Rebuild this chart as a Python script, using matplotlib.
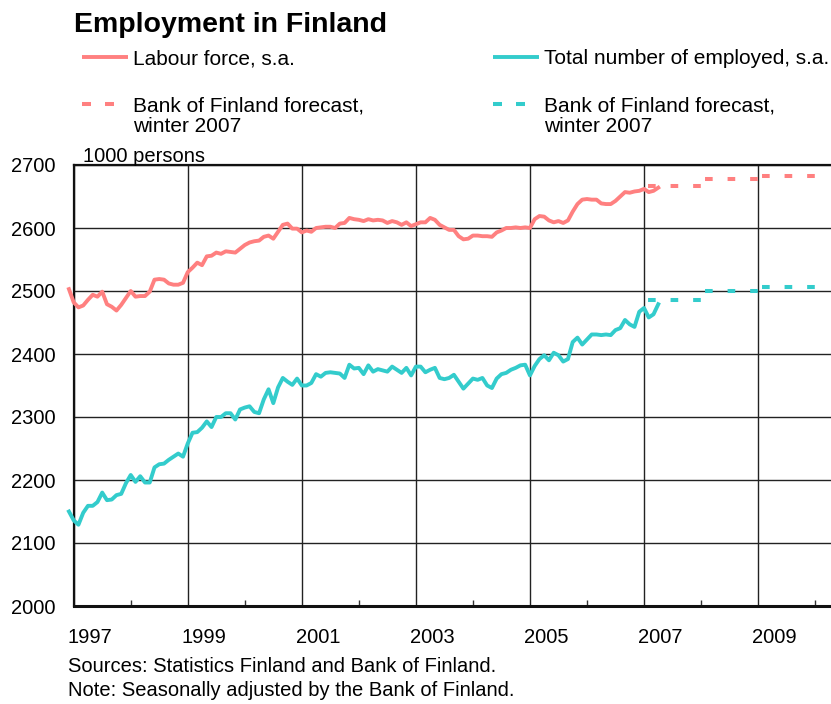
import numpy as np
import pandas as pd
import matplotlib
matplotlib.use("Agg")
import matplotlib.pyplot as plt
from matplotlib.lines import Line2D
from matplotlib.transforms import ScaledTranslation

plt.rcParams['font.family'] = ['Liberation Sans', 'DejaVu Sans']

# Monthly series, Dec 1996 - Apr 2007 (1000 persons, seasonally adjusted)
start_month = '1996-12'
end_month = '2007-04'

labour_force = [
    2503,
    2482, 2474, 2477, 2486, 2494, 2491, 2499, 2479, 2475, 2469, 2478, 2489,  # 1997
    2500, 2491, 2492, 2492, 2499, 2518, 2519, 2518, 2512, 2510, 2510, 2513,  # 1998
    2530, 2537, 2545, 2541, 2555, 2556, 2561, 2559, 2563, 2562, 2561, 2567,  # 1999
    2573, 2577, 2579, 2580, 2586, 2588, 2583, 2594, 2605, 2607, 2599, 2599,  # 2000
    2593, 2596, 2594, 2600, 2601, 2602, 2602, 2600, 2607, 2608, 2616, 2614,  # 2001
    2613, 2611, 2614, 2612, 2613, 2612, 2608, 2611, 2609, 2605, 2609, 2603,  # 2002
    2606, 2609, 2609, 2616, 2613, 2605, 2601, 2597, 2597, 2587, 2582, 2583,  # 2003
    2588, 2588, 2587, 2587, 2586, 2593, 2596, 2600, 2600, 2601, 2600, 2601,  # 2004
    2600, 2614, 2619, 2618, 2612, 2609, 2611, 2608, 2612, 2626, 2638, 2645,  # 2005
    2646, 2645, 2645, 2639, 2638, 2638, 2643, 2650, 2657, 2656, 2658, 2659,  # 2006
    2662, 2657, 2659, 2664,                                                  # 2007
]

employed = [
    2150,
    2136, 2129, 2148, 2159, 2159, 2165, 2180, 2168, 2169, 2176, 2178, 2195,  # 1997
    2208, 2197, 2206, 2196, 2196, 2220, 2225, 2226, 2232, 2237, 2242, 2237,  # 1998
    2258, 2275, 2276, 2283, 2293, 2284, 2300, 2300, 2306, 2306, 2296, 2312,  # 1999
    2315, 2317, 2308, 2306, 2328, 2344, 2322, 2347, 2362, 2356, 2351, 2361,  # 2000
    2350, 2350, 2354, 2368, 2364, 2370, 2371, 2370, 2369, 2362, 2383, 2377,  # 2001
    2378, 2368, 2382, 2372, 2376, 2374, 2372, 2380, 2375, 2370, 2378, 2366,  # 2002
    2380, 2380, 2371, 2375, 2378, 2362, 2360, 2362, 2367, 2356, 2345, 2353,  # 2003
    2361, 2359, 2362, 2350, 2346, 2361, 2368, 2370, 2375, 2378, 2382, 2383,  # 2004
    2366, 2381, 2392, 2398, 2390, 2402, 2398, 2388, 2392, 2419, 2426, 2415,  # 2005
    2423, 2431, 2431, 2430, 2431, 2430, 2438, 2441, 2454, 2447, 2443, 2467,  # 2006
    2473, 2458, 2463, 2479,                                                  # 2007
]

# Bank of Finland forecast, winter 2007 (annual levels)
forecast_years = [2007, 2008, 2009]
labour_forecast = [2667, 2678, 2683]
employed_forecast = [2486, 2500, 2507]

year_ticks = list(range(1997, 2011))
label_years = [1997, 1999, 2001, 2003, 2005, 2007, 2009]
y_ticks = [2000, 2100, 2200, 2300, 2400, 2500, 2600, 2700]

pink = '#ff8080'
teal = '#33cccc'

months = pd.date_range(start_month, end_month, freq='MS')
xdec = months.year + (months.month - 1) / 12.0

fig = plt.figure(figsize=(8.31, 7.04), dpi=100)
ax = fig.add_axes([73.7 / 831, 98 / 704, 758.5 / 831, 441 / 704])

ax.plot(xdec, labour_force, color=pink, lw=2.8, solid_joinstyle='round', clip_on=False, zorder=3)
ax.plot(xdec, employed, color=teal, lw=2.8, solid_joinstyle='round', clip_on=False, zorder=3)

# forecast: one dashed segment per calendar year
dash = (4.6, (1.9, 3.7))
for yr, lf, em in zip(forecast_years, labour_forecast, employed_forecast):
    ax.plot([yr, yr + 1], [lf, lf], color=pink, lw=2.9, linestyle=dash,
            dash_capstyle='butt', zorder=3)
    ax.plot([yr, yr + 1], [em, em], color=teal, lw=2.9, linestyle=dash,
            dash_capstyle='butt', zorder=3)

ax.set_xlim(1997, 2010.3)
ax.set_ylim(2000, 2700)

ax.set_yticks(y_ticks)
ax.tick_params(axis='y', length=0, pad=13, labelsize=14.5)
ax.yaxis.grid(True, color='#222222', lw=1.0)

ax.set_xticks(label_years)
ax.set_xticks(year_ticks, minor=True)
ax.set_xticklabels([str(y) for y in label_years])
ax.tick_params(axis='x', which='major', length=0, pad=16, labelsize=14.5)
ax.tick_params(axis='x', which='minor', direction='in', length=4, width=1, color='#333333')
ax.xaxis.grid(True, which='major', color='#222222', lw=1.0)
offset = ScaledTranslation(16.5 / 100, 0, fig.dpi_scale_trans)
for lab in ax.get_xticklabels():
    lab.set_transform(lab.get_transform() + offset)
ax.set_axisbelow(True)

ax.spines['right'].set_visible(False)
ax.spines['top'].set_linewidth(1.6)
ax.spines['left'].set_linewidth(1.6)
ax.spines['bottom'].set_linewidth(2.2)
for s in ax.spines.values():
    s.set_color('#111111')

# title, unit and notes
fig.text(74 / 831, 1 - 25 / 704, 'Employment in Finland', fontsize=20.5,
         fontweight='bold', va='center', ha='left')
fig.text(83 / 831, 1 - 157 / 704, '1000 persons', fontsize=14.5, va='center', ha='left')
fig.text(68 / 831, 1 - 666 / 704, 'Sources: Statistics Finland and Bank of Finland.',
         fontsize=14.5, va='center', ha='left')
fig.text(68 / 831, 1 - 691 / 704, 'Note: Seasonally adjusted by the Bank of Finland.',
         fontsize=14.5, va='center', ha='left')

# legend, drawn in figure pixels
def fy(py):
    return 1 - py / 704

def fx(px):
    return px / 831

legend_items = [
    (82, 57, pink, '-', ['Labour force, s.a.']),
    (493, 57, teal, '-', ['Total number of employed, s.a.']),
    (82, 104, pink, '--', ['Bank of Finland forecast,', 'winter 2007']),
    (493, 104, teal, '--', ['Bank of Finland forecast,', 'winter 2007']),
]
for x0, y0, col, ls, lines in legend_items:
    if ls == '-':
        fig.add_artist(Line2D([fx(x0), fx(x0 + 46)], [fy(y0), fy(y0)],
                              color=col, lw=2.8, solid_capstyle='butt'))
    else:
        for d0 in (0, 23):
            fig.add_artist(Line2D([fx(x0 + d0), fx(x0 + d0 + 9)], [fy(y0), fy(y0)],
                                  color=col, lw=2.9, solid_capstyle='butt'))
    for k, txt in enumerate(lines):
        fig.text(fx(x0 + 51), fy(y0 + 2 + 20 * k), txt, fontsize=15, va='center', ha='left')

fig.savefig('out.png', dpi=100)
